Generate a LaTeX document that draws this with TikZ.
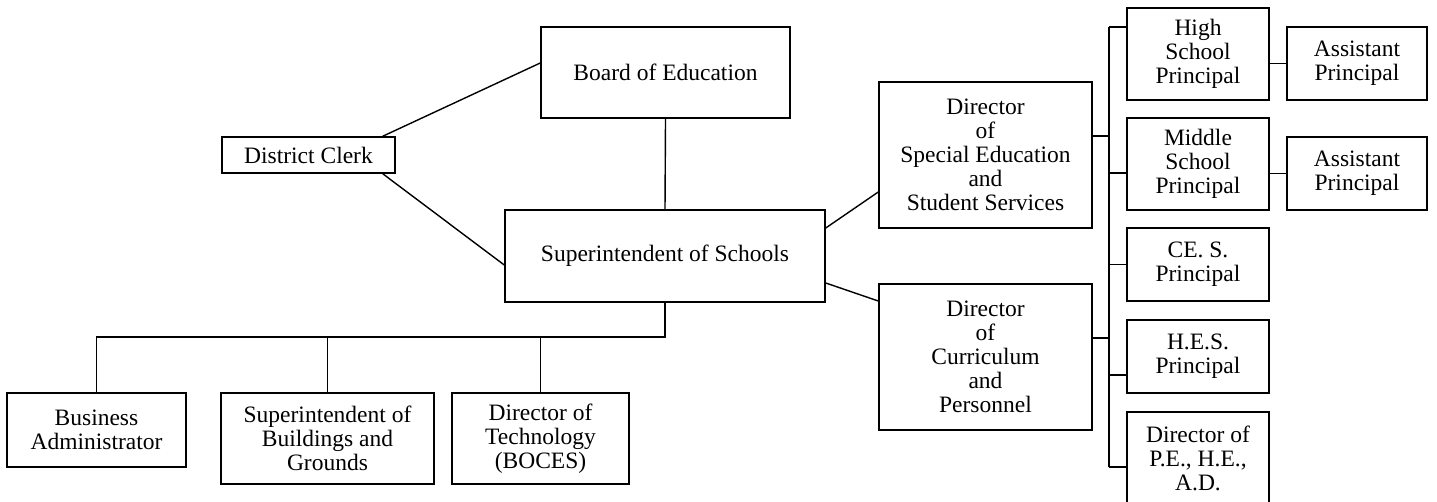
\documentclass[tikz,border=0pt]{standalone}
\usepackage{fontspec}
\setmainfont{Liberation Serif}
\begin{document}
\begin{tikzpicture}[x=1pt,y=-1pt,
  orgbox/.style={draw, line width=1.5pt, inner sep=0pt, align=center,
                 font=\fontsize{23.5}{24}\selectfont},
  link/.style={line width=1.4pt}]
\useasboundingbox (0,0) rectangle (1437,502);

% governing boxes
\node[orgbox, minimum width=249pt, minimum height=91pt] (board) at (665.5,72.5) {Board of Education};
\node[orgbox, minimum width=173pt, minimum height=36pt] (clerk) at (308.5,155) {District Clerk};
\node[orgbox, minimum width=320pt, minimum height=92pt] (super) at (665,256) {Superintendent of Schools};

% directors
\node[orgbox, minimum width=213pt, minimum height=146pt] (sped) at (985.5,155)
  {Director\\of\\Special Education\\and\\Student Services};
\node[orgbox, minimum width=213pt, minimum height=146pt] (curr) at (985.5,357)
  {Director\\of\\Curriculum\\and\\Personnel};

% building principals
\node[orgbox, minimum width=142pt, minimum height=92pt] (hs)  at (1198,54)    {High\\School\\Principal};
\node[orgbox, minimum width=140pt, minimum height=73pt] (ap1) at (1357,63.5)  {Assistant\\Principal};
\node[orgbox, minimum width=142pt, minimum height=92pt] (ms)  at (1198,164)   {Middle\\School\\Principal};
\node[orgbox, minimum width=140pt, minimum height=73pt] (ap2) at (1357,173.5) {Assistant\\Principal};
\node[orgbox, minimum width=142pt, minimum height=73pt] (ces) at (1198,264.5) {CE. S.\\Principal};
\node[orgbox, minimum width=142pt, minimum height=73pt] (hes) at (1198,356.5) {H.E.S.\\Principal};
\node[orgbox, minimum width=142pt, minimum height=92pt] (pe)  at (1198,458)   {Director of\\P.E., H.E.,\\A.D.};

% district staff
\node[orgbox, minimum width=179pt, minimum height=74pt] (ba)  at (96.5,430)   {Business\\Administrator};
\node[orgbox, minimum width=213pt, minimum height=91pt] (sbg) at (327.5,438.5) {Superintendent of\\Buildings and\\Grounds};
\node[orgbox, minimum width=177pt, minimum height=91pt] (dt)  at (540.5,438.5) {Director of\\Technology\\(BOCES)};

% top of the chart
\draw[link] ([xshift=-13pt]clerk.north east) -- ([yshift=9.5pt]board.west);
\draw[link] ([xshift=-13pt]clerk.south east) -- ([yshift=-9pt]super.west);
\draw[link] (board.south) -- (super.north);
\draw[link] ([yshift=28pt]super.east) -- ([yshift=-37pt]sped.west);
\draw[link] ([yshift=-27pt]super.east) -- ([yshift=56pt]curr.west);

% bus to the principals
\coordinate (bustop) at (1109,27);
\coordinate (busbot) at (1109,467);
\draw[link] (bustop) -- (busbot);
\draw[link] ([yshift=19pt]sped.east) coordinate (s1) -- (s1 -| bustop);
\draw[link] ([yshift=19pt]curr.east) coordinate (c1) -- (c1 -| bustop);
\draw[link] (bustop) -- (bustop -| hs.west);
\draw[link] ([yshift=-9pt]ms.west) coordinate (m1) -- (m1 -| bustop);
\draw[link] (ces.west) -- (ces.west -| bustop);
\draw[link] ([yshift=-18.5pt]hes.west) coordinate (h1) -- (h1 -| bustop);
\draw[link] (busbot) -- (busbot -| pe.west);
\draw[link] (ap1.west) -- (ap1.west -| hs.east);
\draw[link] (ap2.west) -- (ap2.west -| ms.east);

% bar under the superintendent
\coordinate (hbar) at (665,337);
\draw[link] (super.south) -- (hbar) -- (hbar -| ba.north) -- (ba.north);
\draw[link] (hbar -| sbg.north) -- (sbg.north);
\draw[link] (hbar -| dt.north) -- (dt.north);
\end{tikzpicture}
\end{document}
